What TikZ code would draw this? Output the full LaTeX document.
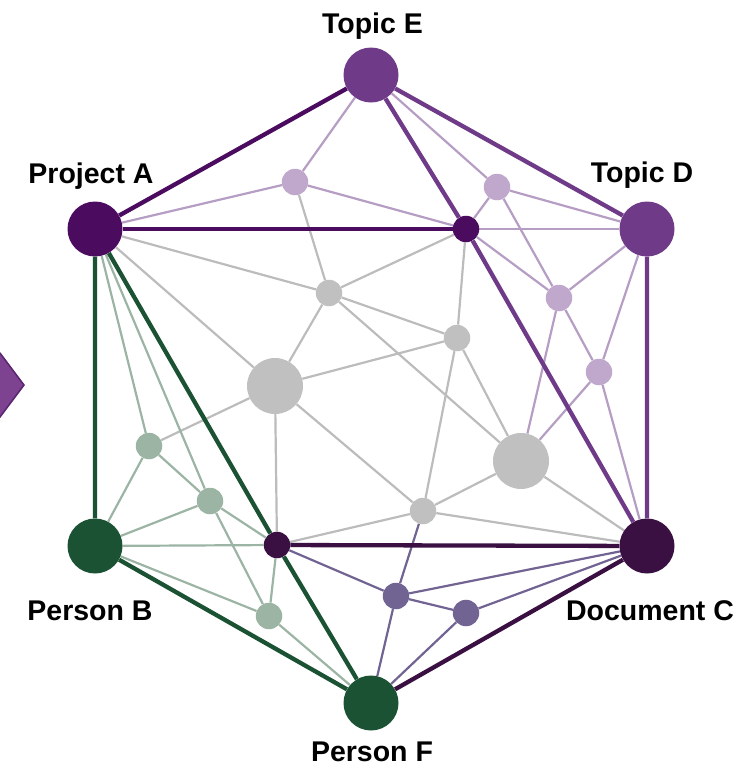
\documentclass[tikz,border=0pt]{standalone}
\usepackage{fontspec}
\setmainfont{Liberation Sans}
\usetikzlibrary{backgrounds}
\definecolor{topicpurple}{HTML}{6F3B88}
\definecolor{projplum}{HTML}{4B0B5E}
\definecolor{docplum}{HTML}{3A1042}
\definecolor{persongreen}{HTML}{1B5233}
\definecolor{lilac}{HTML}{C0A7CC}
\definecolor{lilacline}{HTML}{B59DC3}
\definecolor{softgray}{HTML}{C0C0C0}
\definecolor{grayline}{HTML}{BCBCBC}
\definecolor{sage}{HTML}{9CB4A4}
\definecolor{slate}{HTML}{716392}
\definecolor{tabfill}{HTML}{7D4290}
\definecolor{tabedge}{HTML}{5A2470}
\tikzset{
  hub/.style        = {circle, inner sep=0pt, minimum size=55pt},
  dot/.style        = {circle, inner sep=0pt, minimum size=26.5pt},
  bigdot/.style     = {circle, inner sep=0pt, minimum size=56pt},
  strong/.style     = {line width=4.3pt},
  link/.style       = {line width=2.2pt},
  lbl/.style        = {font=\fontsize{28.5}{34}\selectfont\bfseries, anchor=base,
                       inner sep=0pt, text depth=0pt},
}

\begin{document}
\begin{tikzpicture}[x=1pt, y=-1pt]
  \useasboundingbox (0,0) rectangle (741,766);
  % tab sticking in from the left
  \filldraw[fill=tabfill, draw=tabedge, line width=1.5pt]
    (-12,353) -- (0,353) -- (24,385) -- (0,417) -- (-12,417) -- cycle;

  % outer ring
  \node[hub, fill=topicpurple] (E) at (371,75) {};
  \node[hub, fill=projplum] (A) at (95,229) {};
  \node[hub, fill=topicpurple] (D) at (647,229) {};
  \node[hub, fill=persongreen] (B) at (95,546) {};
  \node[hub, fill=docplum] (C) at (647,546) {};
  \node[hub, fill=persongreen] (F) at (371,703) {};

  \node[lbl] (lE) at (372.5,33) {Topic E};
  \node[lbl] (lA) at (91,183) {Project A};
  \node[lbl] (lD) at (642,182) {Topic D};
  \node[lbl] (lB) at (90,620) {Person B};
  \node[lbl] (lC) at (650,620) {Document C};
  \node[lbl] (lF) at (372,761) {Person F};

  % inner nodes
  \node[dot, fill=projplum] (h1) at (466,229) {};
  \node[dot, fill=docplum] (h2) at (277,545) {};
  \node[dot, fill=lilac] (p1) at (295,182) {};
  \node[dot, fill=lilac] (p2) at (497,187) {};
  \node[dot, fill=lilac] (p3) at (559,298) {};
  \node[dot, fill=lilac] (p4) at (599,372) {};
  \node[dot, fill=softgray] (g1) at (329,293) {};
  \node[dot, fill=softgray] (g2) at (457,338) {};
  \node[bigdot, fill=softgray] (g3) at (275,386) {};
  \node[bigdot, fill=softgray] (g4) at (521,461) {};
  \node[dot, fill=softgray] (g5) at (423,511) {};
  \node[dot, fill=sage] (q1) at (149,446) {};
  \node[dot, fill=sage] (q2) at (210,501) {};
  \node[dot, fill=sage] (q3) at (269,616) {};
  \node[dot, fill=slate] (m1) at (396,596) {};
  \node[dot, fill=slate] (m2) at (466,613) {};

  \begin{scope}[on background layer]
    \foreach \a/\b in {p1/g1, A/g1, A/g3, h1/g1, h1/g2, g1/g3, g1/g2, g1/g4,
                       g3/g2, g2/g5, g2/g4, g3/h2, g3/g5, g4/g5, g4/C, g5/C,
                       g5/h2, g3/q1}
      \draw[link, grayline] (\a) -- (\b);
    \foreach \a/\b in {A/p1, E/p1, p1/h1, E/p2, p2/h1, p2/D, p2/p3, h1/D,
                       h1/p3, p3/D, p3/p4, p4/D, p3/g4, p4/g4, p4/C}
      \draw[link, lilacline] (\a) -- (\b);
    \foreach \a/\b in {A/q1, A/q2, q1/q2, q1/B, q2/B, q2/h2, q2/q3, B/h2,
                       B/q3, q3/h2, q3/F}
      \draw[link, sage] (\a) -- (\b);
    \foreach \a/\b in {g5/m1, h2/m1, m1/m2, m1/C, m2/C, m1/F, m2/F}
      \draw[link, slate] (\a) -- (\b);
    % heavy ties
    \draw[strong, projplum] (A) -- (E);
    \draw[strong, projplum] (A) -- (h1);
    \draw[strong, topicpurple] (E) -- (D) -- (C);
    \draw[strong, topicpurple] (E) -- (h1) -- (C);
    \draw[strong, docplum] (h2) -- (C) -- (F);
    \draw[strong, persongreen] (A) -- (B) -- (F);
    \draw[strong, persongreen] (A) -- (h2) -- (F);
  \end{scope}
\end{tikzpicture}
\end{document}
